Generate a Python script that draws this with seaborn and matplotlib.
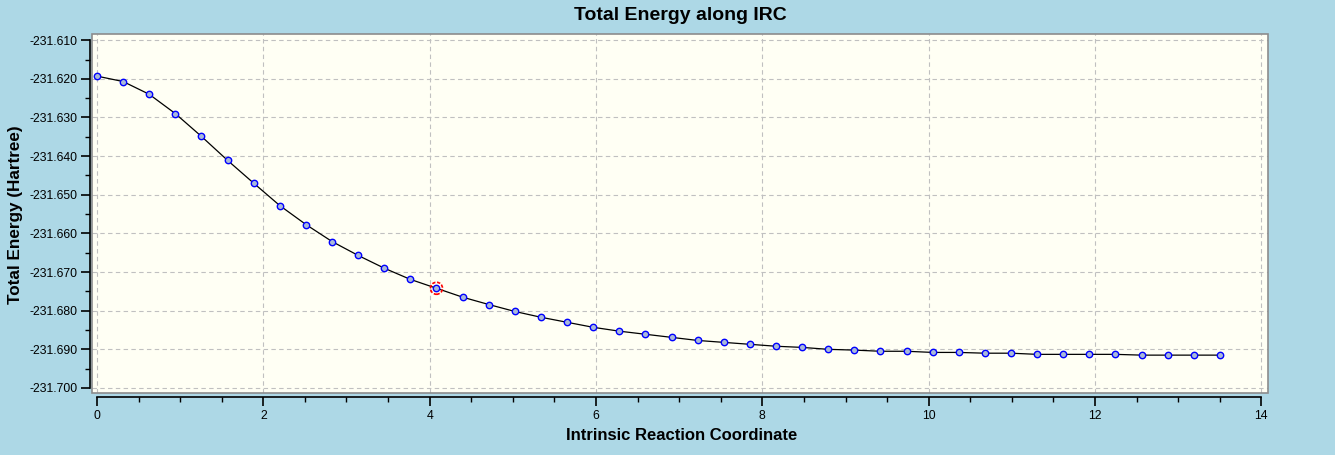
"""
IRC 에너지 곡선 재현 스크립트
- Total Energy along IRC (Hartree)
"""

import matplotlib
matplotlib.use("Agg")
import matplotlib.pyplot as plt
from matplotlib.patches import Rectangle
from matplotlib.ticker import MultipleLocator, FormatStrFormatter
import pandas as pd
import seaborn as sns

# ── 데이터 ────────────────────────────────────────────────────────────
irc_coord = [
    0.000, 0.314, 0.628, 0.942, 1.256, 1.570, 1.884, 2.198, 2.512, 2.826,
    3.140, 3.454, 3.768, 4.082, 4.396, 4.710, 5.024, 5.338, 5.652, 5.966,
    6.280, 6.594, 6.908, 7.222, 7.536, 7.850, 8.164, 8.478, 8.792, 9.106,
    9.420, 9.734, 10.048, 10.362, 10.676, 10.990, 11.304, 11.618, 11.932,
    12.246, 12.560, 12.874, 13.188, 13.502,
]
total_energy = [
    -231.6193, -231.6207, -231.6240, -231.6290, -231.6349, -231.6411,
    -231.6470, -231.6528, -231.6577, -231.6621, -231.6657, -231.6690,
    -231.6719, -231.6742, -231.6765, -231.6784, -231.6802, -231.6817,
    -231.6830, -231.6843, -231.6853, -231.6861, -231.6869, -231.6877,
    -231.6882, -231.6887, -231.6892, -231.6895, -231.6900, -231.6902,
    -231.6905, -231.6905, -231.6908, -231.6908, -231.6910, -231.6910,
    -231.6913, -231.6913, -231.6913, -231.6913, -231.6915, -231.6915,
    -231.6915, -231.6915,
]
current_point = 13  # 빨간 원으로 표시된 지점

title = "Total Energy along IRC"
x_label = "Intrinsic Reaction Coordinate"
y_label = "Total Energy (Hartree)"

# ── 스타일 ───────────────────────────────────────────────────────────────────
sns.set_theme(style="ticks")
plt.rcParams["font.family"] = ["Liberation Sans", "DejaVu Sans"]
plt.rcParams["axes.unicode_minus"] = False
plt.rcParams["text.color"] = "black"
plt.rcParams["axes.labelcolor"] = "black"

W, H = 1335, 455
fig = plt.figure(figsize=(W / 100, H / 100), dpi=100, facecolor="#ADD8E6")
ax = fig.add_axes([92 / W, 1 - 393 / H, 1176 / W, 359 / H])
ax.set_facecolor("#FFFFF4")

df = pd.DataFrame({"irc": irc_coord, "energy": total_energy})
sns.lineplot(data=df, x="irc", y="energy", ax=ax, color="black", lw=0.9,
             marker="o", markersize=4.6, markerfacecolor="#A9B9D9",
             markeredgecolor="#0000FF", markeredgewidth=1.0,
             estimator=None, sort=False, zorder=3)

ax.scatter([irc_coord[current_point]], [total_energy[current_point]], s=75,
           facecolors="none", edgecolors="red", linewidths=1.2,
           linestyles=(0, (2, 1)), zorder=4)

# ── 축 설정 ──────────────────────────────────────────────────────────────────
ax.set_xlim(-0.06, 14.08)
ax.set_ylim(-231.7013, -231.6084)
ax.xaxis.set_major_locator(MultipleLocator(2))
ax.xaxis.set_minor_locator(MultipleLocator(0.5))
ax.yaxis.set_major_locator(MultipleLocator(0.01))
ax.yaxis.set_minor_locator(MultipleLocator(0.005))
ax.yaxis.set_major_formatter(FormatStrFormatter("%.3f"))

ax.grid(True, which="major", color="#C0C0C0", linestyle=(0, (4, 3)), lw=0.8)
ax.set_axisbelow(True)

for s in ["top", "right"]:
    ax.spines[s].set_visible(False)
ax.spines["left"].set_position(("outward", 1.5))
ax.spines["bottom"].set_position(("outward", 3))
ax.spines["left"].set_bounds(-231.700, -231.610)
ax.spines["bottom"].set_bounds(0, 14)
for s in ["left", "bottom"]:
    ax.spines[s].set_color("black")
    ax.spines[s].set_linewidth(1.2)

ax.tick_params(which="major", length=6.5, width=1.2, color="black",
               labelsize=8.8, labelcolor="black", pad=2.5)
ax.tick_params(which="minor", length=3.6, width=1.0, color="black")

ax.add_patch(Rectangle((0, 0), 1, 1, transform=ax.transAxes, fill=False,
                       edgecolor="#8C8C8C", lw=1.2, clip_on=False, zorder=5))

ax.set_xlabel(x_label, fontsize=12, fontweight="bold", va="center")
ax.set_ylabel(y_label, fontsize=12.3, fontweight="bold", va="center")
ax.xaxis.set_label_coords((682 - 92) / 1176, (393 - 436) / 359)
ax.yaxis.set_label_coords((16 - 92) / 1176, (393 - 215) / 359)

fig.text(680 / W, 1 - 16 / H, title, ha="center", va="center",
         fontsize=14, fontweight="bold")

plt.savefig("out.png", dpi=100, facecolor=fig.get_facecolor())
plt.close()
